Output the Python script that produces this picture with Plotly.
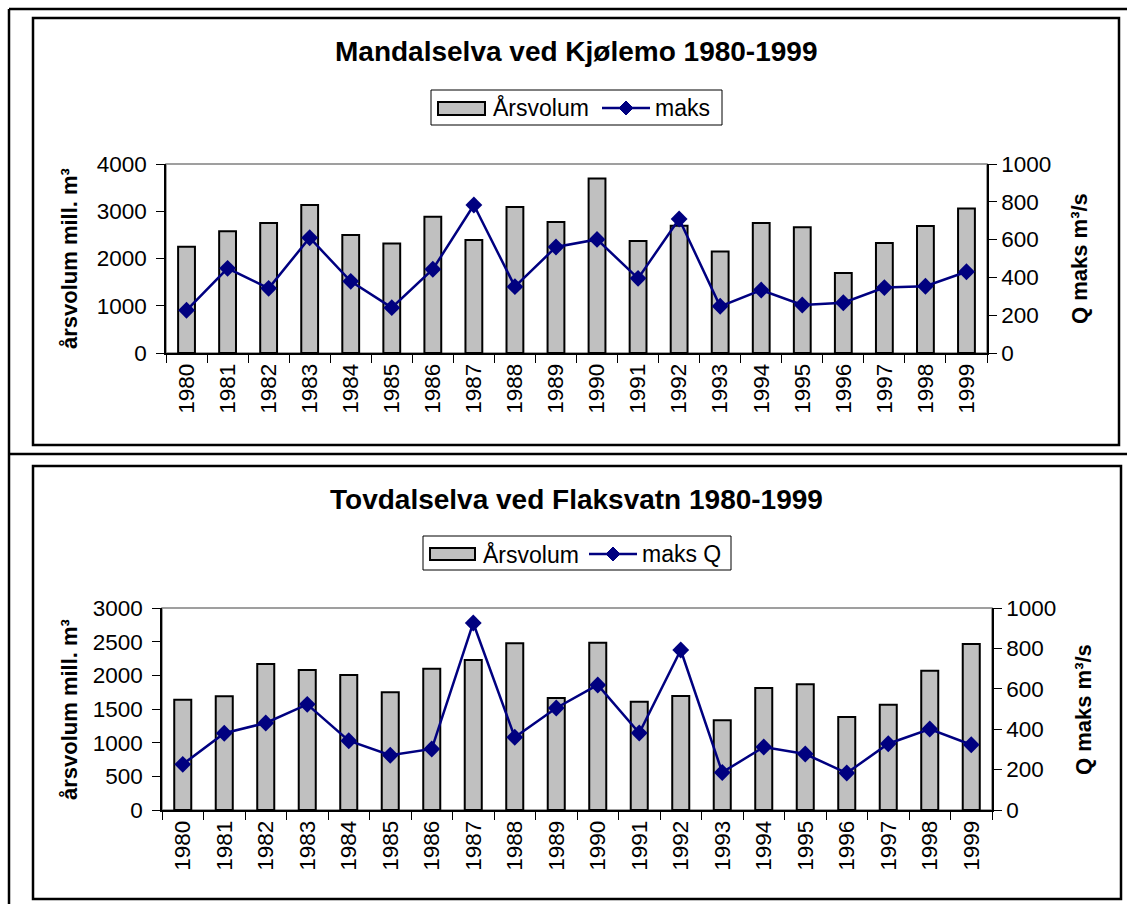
import plotly.graph_objects as go

W, H = 1127, 904

years = [str(y) for y in range(1980, 2000)]

# Mandalselva ved Kjølemo
mandal_volum = [2250, 2575, 2750, 3130, 2500, 2315, 2885, 2390, 3090, 2770,
                3695, 2370, 2695, 2150, 2750, 2660, 1695, 2330, 2690, 3060]
mandal_maks = [226, 448, 342, 610, 379, 240, 443, 783, 351, 561,
               601, 395, 709, 247, 333, 254, 266, 346, 353, 430]

# Tovdalselva ved Flaksvatn
tovdal_volum = [1638, 1688, 2168, 2079, 2005, 1747, 2099, 2228, 2475, 1663,
                2485, 1609, 1693, 1332, 1812, 1866, 1381, 1564, 2069, 2465]
tovdal_maks = [226, 380, 431, 523, 343, 271, 302, 926, 360, 505,
               619, 381, 792, 186, 312, 277, 183, 328, 401, 323]

title1 = "Mandalselva ved Kjølemo 1980-1999"
title2 = "Tovdalselva ved Flaksvatn 1980-1999"
left_title = "årsvolum mill. m³"
right_title = "Q maks m³/s"
legend_bar = "Årsvolum"
legend_line1 = "maks"
legend_line2 = "maks Q"

FONT = "Liberation Sans, Arial, sans-serif"
BAR_COLOR = "#C0C0C0"
LINE_COLOR = "#000080"


def px(x):
    return x / W


def py(y):
    return 1 - y / H


fig = go.Figure()

fig.add_trace(go.Bar(x=years, y=mandal_volum, name=legend_bar,
                     marker=dict(color=BAR_COLOR, line=dict(color="black", width=2)),
                     xaxis="x", yaxis="y", showlegend=False))
fig.add_trace(go.Scatter(x=years, y=mandal_maks, name=legend_line1, mode="lines+markers",
                         line=dict(color=LINE_COLOR, width=2.5),
                         marker=dict(symbol="diamond", size=13, color=LINE_COLOR),
                         xaxis="x", yaxis="y2", showlegend=False))
fig.add_trace(go.Bar(x=years, y=tovdal_volum, name=legend_bar,
                     marker=dict(color=BAR_COLOR, line=dict(color="black", width=2)),
                     xaxis="x2", yaxis="y3", showlegend=False))
fig.add_trace(go.Scatter(x=years, y=tovdal_maks, name=legend_line2, mode="lines+markers",
                         line=dict(color=LINE_COLOR, width=2.5),
                         marker=dict(symbol="diamond", size=13, color=LINE_COLOR),
                         xaxis="x2", yaxis="y4", showlegend=False))

tickfont = dict(family=FONT, size=22.5, color="black")

xcommon = dict(type="category", tickson="boundaries", ticks="outside", ticklen=8,
               tickcolor="black", tickangle=-90, showline=True, linecolor="black",
               linewidth=1.5, showgrid=False, tickfont=tickfont, automargin=False,
               range=[-0.5, len(years) - 0.5])
ycommon = dict(ticks="outside", ticklen=8, tickcolor="black", showline=True,
               linecolor="black", linewidth=1.5, showgrid=False, zeroline=False,
               tickfont=tickfont, automargin=False)

top_dom = [py(353), py(164)]
bot_dom = [py(810), py(608)]

fig.update_layout(
    width=W, height=H, autosize=False,
    margin=dict(l=0, r=0, t=0, b=0, autoexpand=False),
    paper_bgcolor="white", plot_bgcolor="white",
    font=dict(family=FONT, color="black"),
    bargap=0.59, showlegend=False,
    xaxis=dict(domain=[px(166), px(987)], anchor="y", **xcommon),
    yaxis=dict(domain=top_dom, anchor="x", range=[0, 4000], dtick=1000,
               ticklabelstandoff=5, **ycommon),
    yaxis2=dict(domain=top_dom, anchor="x", overlaying="y", side="right",
                range=[0, 1000], dtick=200, **ycommon),
    xaxis2=dict(domain=[px(162), px(992)], anchor="y3", **xcommon),
    yaxis3=dict(domain=bot_dom, anchor="x2", range=[0, 3000], dtick=500,
                ticklabelstandoff=5, **ycommon),
    yaxis4=dict(domain=bot_dom, anchor="x2", overlaying="y3", side="right",
                range=[0, 1000], dtick=200, **ycommon),
)


def ann(text, x, y, size=22, angle=0, xanchor="center", bold=False):
    return dict(text=("<b>" + text + "</b>") if bold else text,
                x=px(x), y=py(y), xref="paper", yref="paper",
                showarrow=False, xanchor=xanchor, yanchor="middle", textangle=angle,
                font=dict(family=FONT, size=size, color="black"))


annotations = [
    ann(title1, 576, 52, size=28, bold=True),
    ann(title2, 576, 499, size=28, bold=True),
    ann(left_title, 69, 259, angle=-90, bold=True),
    ann(right_title, 1079, 259, angle=-90, bold=True),
    ann(left_title, 69, 710, angle=-90, bold=True),
    ann(right_title, 1083, 710, angle=-90, bold=True),
    # legends text
    ann(legend_bar, 491, 108, size=23, xanchor="left"),
    ann(legend_line1, 653, 108, size=23, xanchor="left"),
    ann(legend_bar, 481, 554, size=23, xanchor="left"),
    ann(legend_line2, 640, 554, size=23, xanchor="left"),
]
fig.update_layout(annotations=annotations)


def pline(x0, y0, x1, y1, color="black", width=2.5):
    return dict(type="line", xref="paper", yref="paper",
                x0=px(x0), x1=px(x1), y0=py(y0), y1=py(y1),
                line=dict(color=color, width=width))


def prect(x0, y0, x1, y1, color="black", width=2.5, fill=None):
    d = dict(type="rect", xref="paper", yref="paper",
             x0=px(x0), x1=px(x1), y0=py(y0), y1=py(y1),
             line=dict(color=color, width=width))
    if fill:
        d["fillcolor"] = fill
    return d


def diamond(cx, cy, r=7):
    path = "M {} {} L {} {} L {} {} L {} {} Z".format(
        px(cx - r), py(cy), px(cx), py(cy - r), px(cx + r), py(cy), px(cx), py(cy + r))
    return dict(type="path", xref="paper", yref="paper", path=path,
                fillcolor=LINE_COLOR, line=dict(color=LINE_COLOR, width=1))


shapes = [
    # outer table lines
    pline(9, 9, 9, 904),
    pline(9, 9, 1127, 9),
    pline(9, 454, 1127, 454),
    # chart boxes
    prect(33, 18, 1119, 445),
    prect(33, 466, 1121, 899),
    # plot area borders (grey)
    dict(type="rect", xref="x domain", yref="y domain", x0=0, x1=1, y0=0, y1=1,
         line=dict(color="#808080", width=1.5), layer="below"),
    dict(type="rect", xref="x2 domain", yref="y3 domain", x0=0, x1=1, y0=0, y1=1,
         line=dict(color="#808080", width=1.5), layer="below"),
    # legend 1
    prect(431, 90, 722, 125, width=1),
    prect(438, 102, 485, 115, width=2, fill=BAR_COLOR),
    pline(602, 108, 650, 108, color=LINE_COLOR, width=2.5),
    diamond(626, 108),
    # legend 2
    prect(423, 536, 731, 570, width=1),
    prect(430, 548, 475, 560, width=2, fill=BAR_COLOR),
    pline(589, 554, 637, 554, color=LINE_COLOR, width=2.5),
    diamond(613, 554),
]
fig.update_layout(shapes=shapes)

# place the figure at the page origin (no body margin / stray line box)
post = ("var s=document.createElement('style');"
        "s.innerHTML='html,body{margin:0;padding:0;overflow:hidden;background:#ffffff;}';"
        "document.head.appendChild(s);"
        "var gd=document.getElementById('{plot_id}');"
        "gd.style.position='absolute';gd.style.left='0px';gd.style.top='0px';")

fig.write_html("out.html", post_script=post, config={"displayModeBar": False})
